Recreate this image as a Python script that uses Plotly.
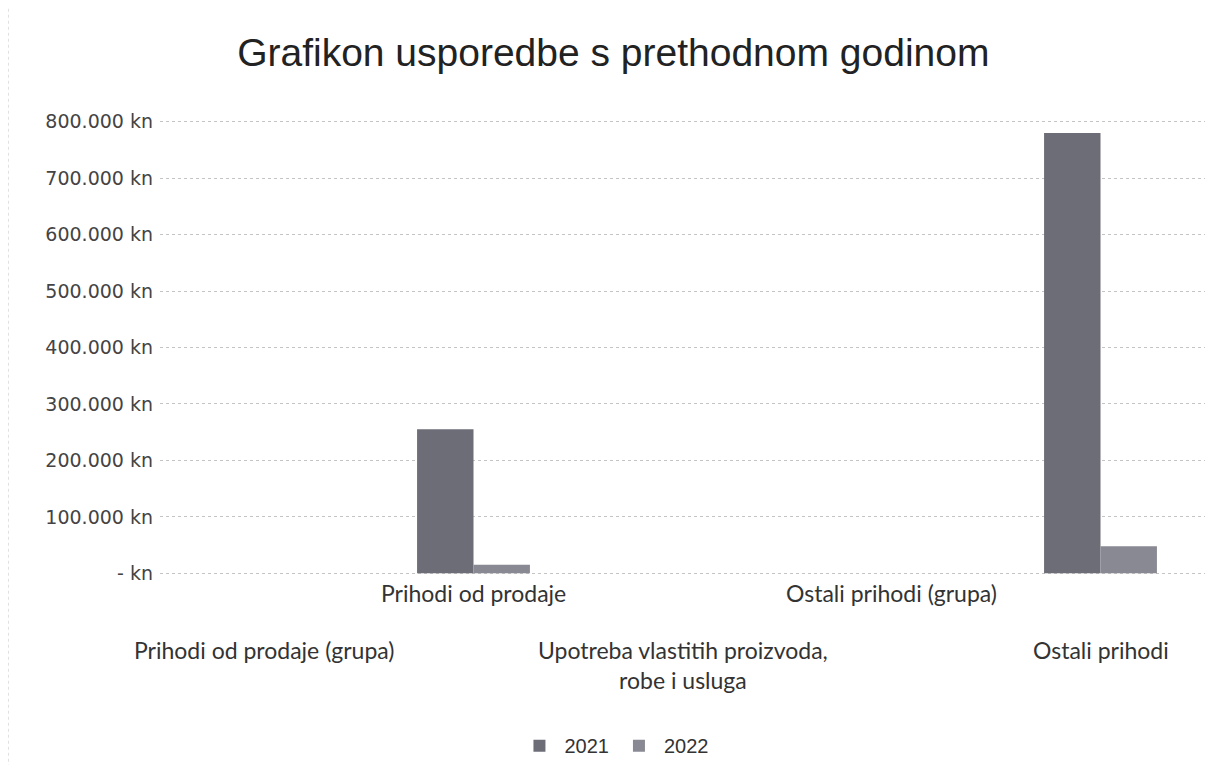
import plotly.graph_objects as go

categories = ["Prihodi od prodaje (grupa)", "Prihodi od prodaje",
              "Upotreba vlastitih proizvoda, robe i usluga",
              "Ostali prihodi (grupa)", "Ostali prihodi"]
cat_labels = ["Prihodi od prodaje (grupa)", "Prihodi od prodaje",
              "Upotreba vlastitih proizvoda,<br>robe i usluga",
              "Ostali prihodi (grupa)", "Ostali prihodi"]
label_row = [2, 1, 2, 1, 2]
values_2021 = [0, 255000, 0, 0, 780000]
values_2022 = [0, 15000, 0, 0, 48000]
tick_vals = [0, 100000, 200000, 300000, 400000, 500000, 600000, 700000, 800000]
tick_text = ["- kn", "100.000 kn", "200.000 kn", "300.000 kn", "400.000 kn",
             "500.000 kn", "600.000 kn", "700.000 kn", "800.000 kn"]

fig = go.Figure()
fig.add_trace(go.Bar(name="2021", x=categories, y=values_2021,
                     marker=dict(color="#6d6d77", line=dict(width=0))))
fig.add_trace(go.Bar(name="2022", x=categories, y=values_2022,
                     marker=dict(color="#898993", line=dict(width=0))))

annotations = []
for c, lab, row in zip(categories, cat_labels, label_row):
    annotations.append(dict(
        x=c, y=0, xref="x", yref="y", text=lab, showarrow=False,
        xanchor="center", yanchor="top",
        yshift=-4 if row == 1 else -61,
        font=dict(family="Lato, Open Sans, sans-serif", size=23, color="#333333"),
    ))

fig.update_layout(
    width=1213, height=765,
    paper_bgcolor="white", plot_bgcolor="white",
    margin=dict(l=152, r=16, t=112, b=198, autoexpand=False),
    title=dict(text="Grafikon usporedbe s prethodnom godinom",
               x=0.499, xanchor="center", xref="container",
               y=0.9425, yanchor="middle", yref="container",
               font=dict(family="Liberation Sans, Arial, sans-serif", size=39, color="#222222")),
    barmode="group", bargap=0.46, bargroupgap=0,
    showlegend=True,
    legend=dict(orientation="h", x=0.4344, xanchor="center", y=-0.375, yanchor="middle",
                font=dict(family="Liberation Sans, Arial, sans-serif", size=20, color="#333333"),
                itemwidth=40),
    annotations=annotations,
    xaxis=dict(range=[-0.5, 4.5], autorange=False, showticklabels=False,
               showgrid=False, zeroline=False, showline=False, ticks=""),
    yaxis=dict(range=[-3000, 803000], autorange=False, tickvals=tick_vals, ticktext=tick_text,
               showgrid=True, gridcolor="#c4c4c4", gridwidth=1, griddash="dot",
               zeroline=False, showline=False, ticks="", automargin=False,
               ticklabelstandoff=6,
               tickfont=dict(family="DejaVu Sans, Verdana, sans-serif", size=19, color="#444444")),
    shapes=[dict(type="line", xref="paper", yref="paper", x0=-0.1455, x1=-0.1455,
                 y0=-0.45, y1=1.27, line=dict(color="#bbbbbb", width=1, dash="dot"))],
)

fig.write_html("out.html")
